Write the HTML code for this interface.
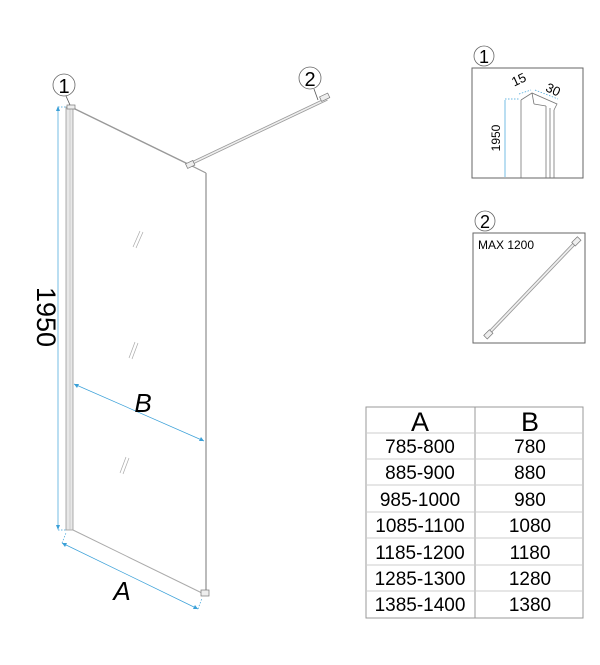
<!DOCTYPE html>
<html><head><meta charset="utf-8"><style>
html,body{margin:0;padding:0;background:#fff;}
svg{display:block;font-family:"Liberation Sans",sans-serif;}
</style></head><body>
<svg width="600" height="665" viewBox="0 0 600 665" xmlns="http://www.w3.org/2000/svg">
<rect x="66" y="107" width="7" height="423" fill="#e8e8e8" stroke="#999" stroke-width="0.8"/>
<line x1="70" y1="107" x2="70" y2="530" stroke="#bbb" stroke-width="0.6"/>
<line x1="73" y1="108" x2="190" y2="165" stroke="#999" stroke-width="1.4"/>
<line x1="190" y1="165" x2="206" y2="173" stroke="#999" stroke-width="1.2"/>
<line x1="206" y1="173" x2="206" y2="594" stroke="#aaa" stroke-width="1.6"/>
<line x1="73" y1="530" x2="204" y2="594" stroke="#aaa" stroke-width="1"/>
<rect x="201" y="590" width="8" height="6" fill="#eee" stroke="#777" stroke-width="0.7"/>
<line x1="190" y1="164" x2="327" y2="99" stroke="#999" stroke-width="3.2"/>
<line x1="190" y1="164" x2="327" y2="99" stroke="#eee" stroke-width="1.6"/>
<rect x="320" y="95" width="9" height="5" fill="#eee" stroke="#777" stroke-width="0.7" transform="rotate(-25 324 97)"/>
<rect x="186" y="162" width="8" height="5" fill="#eee" stroke="#777" stroke-width="0.7" transform="rotate(-25 190 164)"/>
<rect x="67" y="105" width="8" height="4" fill="#eee" stroke="#777" stroke-width="0.7"/>
<g stroke="#aaa" stroke-width="0.7">
<line x1="133" y1="247" x2="140" y2="231"/><line x1="136" y1="248" x2="143" y2="232"/>
<line x1="129" y1="358" x2="135" y2="342"/><line x1="132" y1="359" x2="138" y2="343"/>
<line x1="120" y1="473" x2="126" y2="457"/><line x1="123" y1="474" x2="129" y2="458"/>
</g>
<circle cx="64" cy="85" r="11" fill="#fff" stroke="#666" stroke-width="0.8"/>
<text x="64" y="93" font-size="20" text-anchor="middle">1</text>
<line x1="66" y1="96" x2="70" y2="105" stroke="#555" stroke-width="0.8"/>
<circle cx="310" cy="78" r="11" fill="#fff" stroke="#666" stroke-width="0.8"/>
<text x="310" y="86" font-size="20" text-anchor="middle">2</text>
<line x1="314" y1="89" x2="318" y2="100" stroke="#555" stroke-width="0.8"/>
<g stroke="#3aa0d8" stroke-width="0.7" fill="none">
<line x1="58" y1="108" x2="58" y2="528"/>
<line x1="58" y1="107" x2="66" y2="107" stroke-dasharray="1.5 1.5"/>
<line x1="58" y1="530" x2="66" y2="530" stroke-dasharray="1.5 1.5"/>
<line x1="74" y1="384" x2="204" y2="441"/>
<line x1="62" y1="543" x2="198" y2="609"/>
<line x1="62" y1="543" x2="66" y2="533" stroke-dasharray="1.5 1.5"/>
<line x1="198" y1="609" x2="202" y2="598" stroke-dasharray="1.5 1.5"/>
</g>
<g fill="#3aa0d8">
<polygon points="58,106 56,111 60,111"/><polygon points="58,530 56,525 60,525"/>
<polygon points="74,384 79,384 77,388"/><polygon points="204,441 199,441 201,437"/>
<polygon points="62,543 67,543 65,547"/><polygon points="198,609 193,609 195,605"/>
</g>
<text x="44" y="317" font-size="27" text-anchor="middle" dominant-baseline="middle" transform="rotate(90 44 317)">1950</text>
<text x="143" y="412" font-size="26" font-style="italic" text-anchor="middle">B</text>
<text x="122" y="600" font-size="26" font-style="italic" text-anchor="middle">A</text>
<rect x="472" y="68" width="111" height="110" fill="#fff" stroke="#666" stroke-width="1"/>
<circle cx="484" cy="56" r="10" fill="#fff" stroke="#666" stroke-width="0.8"/>
<text x="484" y="63" font-size="18" text-anchor="middle">1</text>
<g stroke="#777" stroke-width="0.8" fill="none">
<line x1="521" y1="100" x2="521" y2="178"/>
<line x1="546" y1="106" x2="546" y2="178"/>
<line x1="550" y1="108" x2="550" y2="178"/>
<line x1="554" y1="110" x2="554" y2="178"/>
<polyline points="521,100 532,93 557,104 554,110"/>
<line x1="532" y1="93" x2="534" y2="104"/>
<line x1="534" y1="104" x2="546" y2="106"/>
</g>
<g stroke="#3aa0d8" stroke-width="0.7" fill="none" stroke-dasharray="1.5 1.5">
<line x1="505" y1="99" x2="520" y2="99"/>
<line x1="505" y1="100" x2="505" y2="177" stroke-dasharray="none"/>
<line x1="519" y1="94" x2="531" y2="90"/>
<line x1="535" y1="90" x2="558" y2="99"/>
</g>
<text x="497" y="138" font-size="12" text-anchor="middle" dominant-baseline="middle" transform="rotate(-90 497 138)">1950</text>
<text x="519" y="84" font-size="13" text-anchor="middle" transform="rotate(-25 519 80)">15</text>
<text x="553" y="94" font-size="13" text-anchor="middle" transform="rotate(25 553 90)">30</text>
<rect x="473" y="233" width="112" height="110" fill="#fff" stroke="#666" stroke-width="1"/>
<circle cx="485" cy="221" r="10" fill="#fff" stroke="#666" stroke-width="0.8"/>
<text x="485" y="228" font-size="18" text-anchor="middle">2</text>
<text x="478" y="249" font-size="12">MAX 1200</text>
<line x1="575" y1="243" x2="488" y2="334" stroke="#999" stroke-width="3.5"/>
<line x1="575" y1="243" x2="488" y2="334" stroke="#eee" stroke-width="1.8"/>
<rect x="572" y="239" width="8" height="5" fill="#eee" stroke="#777" stroke-width="0.7" transform="rotate(-45 576 241)"/>
<rect x="484" y="332" width="8" height="5" fill="#eee" stroke="#777" stroke-width="0.7" transform="rotate(-45 488 334)"/>
<rect x="366" y="407" width="217" height="211" fill="#fff" stroke="#999" stroke-width="1"/>
<line x1="475" y1="407" x2="475" y2="618" stroke="#999" stroke-width="1"/>
<g stroke="#ccc" stroke-width="1">
<line x1="366" y1="433" x2="583" y2="433"/>
<line x1="366" y1="459" x2="583" y2="459"/>
<line x1="366" y1="485" x2="583" y2="485"/>
<line x1="366" y1="512" x2="583" y2="512"/>
<line x1="366" y1="538" x2="583" y2="538"/>
<line x1="366" y1="565" x2="583" y2="565"/>
<line x1="366" y1="591" x2="583" y2="591"/>
</g>
<g font-size="19" text-anchor="middle">
<text x="420" y="431" font-size="27">A</text><text x="530" y="431" font-size="27">B</text>
<text x="420" y="453">785-800</text><text x="530" y="453">780</text>
<text x="420" y="479">885-900</text><text x="530" y="479">880</text>
<text x="420" y="506">985-1000</text><text x="530" y="506">980</text>
<text x="420" y="532">1085-1100</text><text x="530" y="532">1080</text>
<text x="420" y="559">1185-1200</text><text x="530" y="559">1180</text>
<text x="420" y="585">1285-1300</text><text x="530" y="585">1280</text>
<text x="420" y="611">1385-1400</text><text x="530" y="611">1380</text>
</g>
</svg>
</body></html>
